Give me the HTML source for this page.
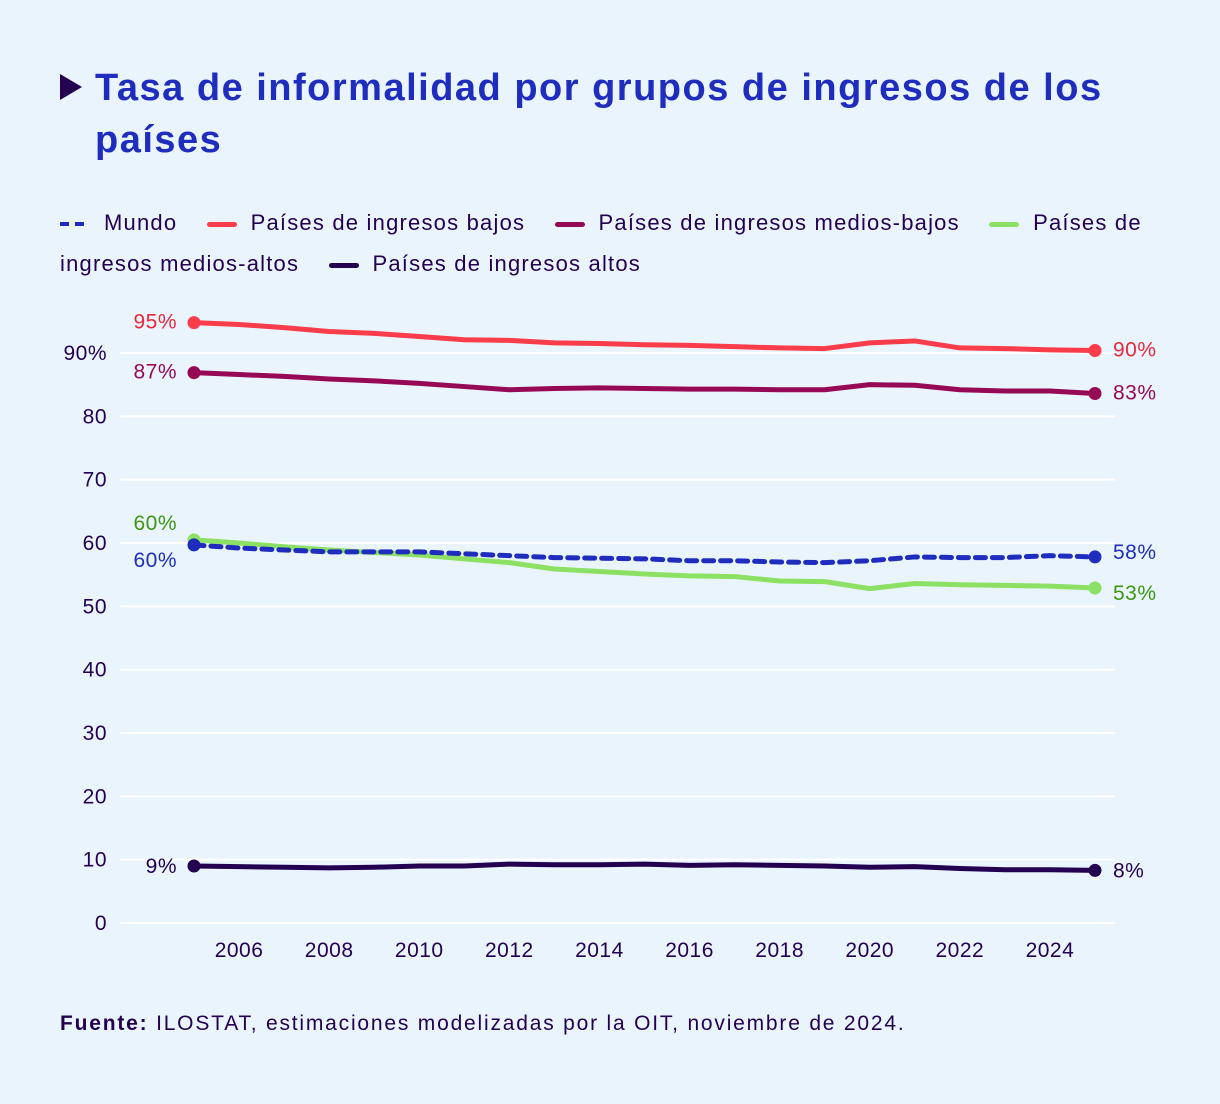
<!DOCTYPE html>
<html><head><meta charset="utf-8">
<style>
body{margin:0;background:#eaf4fd;font-family:"Liberation Sans","DejaVu Sans",sans-serif;}
#wrap{position:relative;width:1220px;height:1104px;background:#eaf4fd;overflow:hidden}
h1{position:absolute;left:95px;top:62px;margin:0;font-size:38px;line-height:52px;color:#1e2dbe;font-weight:bold;width:1080px;letter-spacing:1.5px}
.tri{position:absolute;left:60px;top:74px;width:0;height:0;border-top:13px solid transparent;border-bottom:13px solid transparent;border-left:22px solid #230050}
.legend{position:absolute;left:60px;top:202px;width:1110px;font-size:22px;color:#230050;line-height:41px;letter-spacing:1.2px}
.li{margin-right:22px}
.nw{white-space:nowrap}
.sw{display:inline-block;width:30px;height:5px;vertical-align:middle;margin-right:14px;border-radius:3px}
.src{position:absolute;left:60px;top:1012px;font-size:21px;color:#230050;letter-spacing:1.8px}
svg text{font-family:"Liberation Sans","DejaVu Sans",sans-serif}
</style></head><body>
<div id="wrap">
<div class="tri"></div>
<h1>Tasa de informalidad por grupos de ingresos de los países</h1>
<div class="legend">
<span class="li nw"><svg width="30" height="6" style="vertical-align:middle;margin-right:14px"><line x1="0" y1="3" x2="30" y2="3" stroke="#1e2dbe" stroke-width="4" stroke-dasharray="9,6"/></svg>Mundo</span>
<span class="li nw"><span class="sw" style="background:#fa3c4b"></span>Países de ingresos bajos</span>
<span class="li nw"><span class="sw" style="background:#960a55"></span>Países de ingresos medios-bajos</span>
<span class="li"><span class="nw"><span class="sw" style="background:#8ce164"></span>Países de</span> ingresos medios-altos</span>
<span class="li nw"><span class="sw" style="background:#230050"></span>Países de ingresos altos</span>
</div>
<svg id="chart" width="1220" height="1104" style="position:absolute;left:0;top:0"></svg>
<div class="src"><b>Fuente:</b> ILOSTAT, estimaciones modelizadas por la OIT, noviembre de 2024.</div>
</div>
<script>
const years=[2005,2006,2007,2008,2009,2010,2011,2012,2013,2014,2015,2016,2017,2018,2019,2020,2021,2022,2023,2024,2025];
const bajos=[94.8,94.5,94.0,93.4,93.1,92.6,92.1,92.0,91.6,91.5,91.3,91.2,91.0,90.8,90.7,91.6,91.9,90.8,90.7,90.5,90.4];
const mediosBajos=[86.9,86.6,86.3,85.9,85.6,85.2,84.7,84.2,84.4,84.5,84.4,84.3,84.3,84.2,84.2,85.0,84.9,84.2,84.0,84.0,83.6];
const mundo=[59.7,59.2,58.9,58.6,58.6,58.6,58.3,58.0,57.7,57.6,57.5,57.2,57.2,57.0,56.9,57.2,57.8,57.7,57.7,58.0,57.8];
const mediosAltos=[60.5,60.0,59.4,58.9,58.5,58.1,57.5,56.9,55.9,55.5,55.1,54.8,54.7,54.0,53.9,52.8,53.6,53.4,53.3,53.2,52.9];
const altos=[9.0,8.9,8.8,8.7,8.8,9.0,9.0,9.3,9.2,9.2,9.3,9.1,9.2,9.1,9.0,8.8,8.9,8.6,8.4,8.4,8.3];
const yTicks=[0,10,20,30,40,50,60,70,80,90];
const xTicks=[2006,2008,2010,2012,2014,2016,2018,2020,2022,2024];
const svg=document.getElementById('chart');const NS='http://www.w3.org/2000/svg';
const x=v=>194+(v-2005)*(1095-194)/20;
const y=v=>923-v*(923-353)/90;
function mk(t,a,p){const e=document.createElementNS(NS,t);for(const k in a)e.setAttribute(k,a[k]);(p||svg).appendChild(e);return e;}
yTicks.forEach(t=>{
 const l=mk('line',{x1:120,x2:1115,y1:y(t),y2:y(t),stroke:'#ffffff','stroke-width':2});
 
 
 const tx=mk('text',{x:107,y:y(t)+7,'text-anchor':'end','font-size':21,fill:'#230050','letter-spacing':'0.5'});
 tx.textContent=t===90?'90%':t;
 
 
});
xTicks.forEach(t=>{
 const tx=mk('text',{x:x(t),y:957,'text-anchor':'middle','font-size':21,fill:'#230050','letter-spacing':'0.5'});
 tx.textContent=t;
 
 
});
const series=[
 {n:'bajos',d:bajos,c:'#fa3c4b',lc:'#e8283c',dash:null,l0:'95%',l1:'90%',dy0:6,dy1:6},
 {n:'medios-bajos',d:mediosBajos,c:'#960a55',lc:'#960a55',dash:null,l0:'87%',l1:'83%',dy0:6,dy1:6},
 {n:'medios-altos',d:mediosAltos,c:'#8ce164',lc:'#3c9614',dash:null,l0:'60%',l1:'53%',dy0:-10,dy1:12},
 {n:'mundo',d:mundo,c:'#1e2dbe',lc:'#1e2dbe',dash:'10,7',l0:'60%',l1:'58%',dy0:22,dy1:2},
 {n:'altos',d:altos,c:'#230050',lc:'#230050',dash:null,l0:'9%',l1:'8%',dy0:7,dy1:7}
];
series.forEach(s=>{
 const pts=s.d.map((v,i)=>x(years[i])+','+y(v)).join(' ');
 const a={points:pts,fill:'none',stroke:s.c,'stroke-width':5,'stroke-linejoin':'round','stroke-linecap':'round'};
 if(s.dash)a['stroke-dasharray']=s.dash;
 const pl=mk('polyline',a);
 
 
 [0,s.d.length-1].forEach(i=>{
  const c=mk('circle',{cx:x(years[i]),cy:y(s.d[i]),r:6.5,fill:s.c});
  
  
 });
 const t0=mk('text',{x:177,y:y(s.d[0])+s.dy0,'text-anchor':'end','font-size':21,fill:s.lc,'letter-spacing':'0.5'});
 t0.textContent=s.l0;
 
 
 const t1=mk('text',{x:1113,y:y(s.d[s.d.length-1])+s.dy1,'font-size':21,fill:s.lc,'letter-spacing':'0.5'});
 t1.textContent=s.l1;
 
 
});
</script>
</body></html>
